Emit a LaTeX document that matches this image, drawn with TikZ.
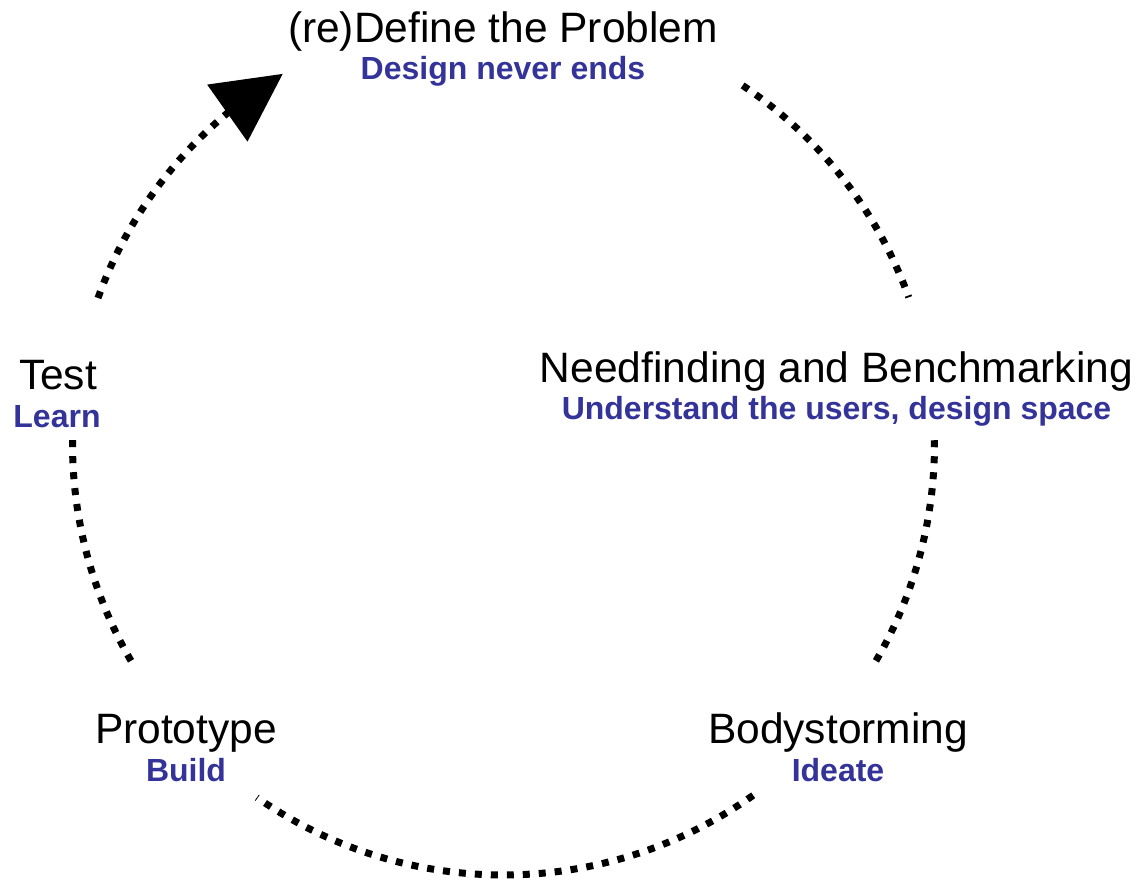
\documentclass[tikz,border=0pt]{standalone}
\usepackage{fontspec}
\setmainfont{Liberation Sans}
\usetikzlibrary{arrows.meta,bending}
\definecolor{subblue}{RGB}{51,51,153}
\tikzset{
  dotline/.style={line width=7pt, dash pattern=on 7pt off 9pt, line cap=butt},
  mainlabel/.style={anchor=base, inner sep=0pt, font=\fontsize{42.5}{50}\selectfont},
  sublabel/.style={anchor=base, inner sep=0pt, text=subblue, font=\fontsize{32}{38}\selectfont\bfseries},
}
\begin{document}
\begin{tikzpicture}[x=1pt,y=1pt]
\useasboundingbox (0,0) rectangle (1138,-879);
\coordinate (C) at (503.5,-444);
% arc end points
\coordinate (a1) at ([shift={(56.3:431)}]C);
\coordinate (a2) at ([shift={(0.5:431)}]C);
\coordinate (a3) at ([shift={(-54.6:431)}]C);
\coordinate (a4) at ([shift={(-149.8:431)}]C);
\coordinate (a5) at ([shift={(160.2:431)}]C);
% labels
\node[mainlabel] (prob) at (503,-42) {(re)Define the Problem};
\node[sublabel] (probs) at (503,-79) {Design never ends};
\node[mainlabel] (need) at (836.5,-382) {Needfinding and Benchmarking};
\node[sublabel] (needs) at (836.5,-419) {Understand the users, design space};
\node[mainlabel] (body) at (838,-743) {Bodystorming};
\node[sublabel] (bodys) at (838,-781) {Ideate};
\node[mainlabel] (proto) at (186,-743) {Prototype};
\node[sublabel] (protos) at (186,-781) {Build};
\node[mainlabel] (test) at (58,-389) {Test};
\node[sublabel] (tests) at (57,-427) {Learn};
% arcs
\draw[dotline] (a1) arc[start angle=56.3, end angle=19.9, radius=431];
\draw[dotline] (a2) arc[start angle=0.5, end angle=-30.5, radius=431];
\draw[dotline] (a3) arc[start angle=-54.6, end angle=-124.9, radius=431];
\draw[dotline] (a4) arc[start angle=-149.8, end angle=-181.3, radius=431];
\draw[dotline, -{Triangle[length=68pt,width=68pt]}] (a5) arc[start angle=160.2, end angle=120.8, radius=431];
\end{tikzpicture}
\end{document}
